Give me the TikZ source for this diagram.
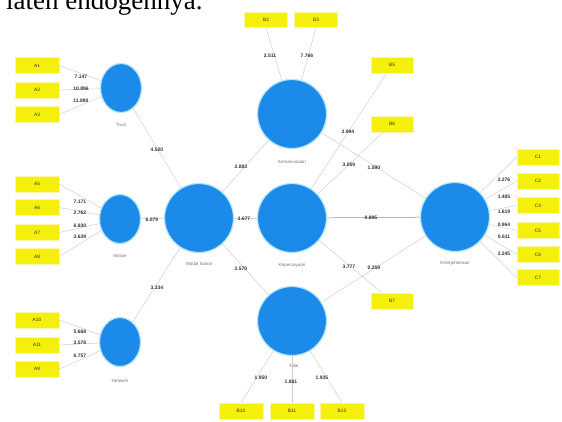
\documentclass[tikz,border=0pt]{standalone}
\usepackage{fontspec}
\setmainfont{Liberation Sans}
\newfontfamily\bodyfont{Liberation Serif}
\usetikzlibrary{positioning,shapes.geometric}
\definecolor{lvblue}{RGB}{28,138,232}
\definecolor{lvglow}{RGB}{175,228,250}
\definecolor{mvyellow}{RGB}{244,240,12}
\definecolor{mvedge}{RGB}{250,246,165}
\definecolor{linkgray}{RGB}{210,208,200}

\begin{document}
\begin{tikzpicture}[x=1pt,y=-1pt,
    latent/.style={circle, fill=lvblue, draw=lvglow, line width=1.2pt, inner sep=0pt, minimum size=69pt},
    smalllatent/.style={ellipse, fill=lvblue, draw=lvglow, line width=1.2pt, inner sep=0pt, minimum width=41pt, minimum height=49pt},
    indicator/.style={rectangle, fill=mvyellow, draw=mvedge, line width=0.6pt, minimum width=44pt, minimum height=16pt, inner sep=0pt, font=\fontsize{4.8}{5}\selectfont, text=black!80},
    lvlabel/.style={font=\fontsize{4.5}{5}\selectfont, text=black!55},
    coef/.style={font=\fontsize{5}{5}\selectfont\bfseries, text=black!80, inner sep=0.5pt},
    link/.style={draw=linkgray, line width=0.5pt}]
    \useasboundingbox (0,0) rectangle (562,421);
    \fill[white] (0,0) rectangle (562,421);

    % text of the page above the figure
    \node[anchor=base west, inner sep=0pt, font=\bodyfont\fontsize{27}{30}\selectfont] (pagetext) at (6,9) {laten endogennya.};

    % Latent variables
    \node[smalllatent] (trust) at (121,88) {};
    \node[lvlabel] (trustlbl) at (121,125) {Trust};
    \node[smalllatent] (motive) at (120,219) {};
    \node[lvlabel] (motivelbl) at (120,256) {Motive};
    \node[smalllatent] (network) at (120,342) {};
    \node[lvlabel] (networklbl) at (120,381) {Network};
    \node[latent] (modal) at (199,218) {};
    \node[lvlabel] (modallbl) at (199,264) {Modal Sosial};
    \node[latent] (kemanusiaan) at (292,114) {};
    \node[lvlabel] (kemanusiaanlbl) at (292,162) {Kemanusiaan};
    \node[latent] (kepercayaan) at (292,218) {};
    \node[lvlabel] (kepercayaanlbl) at (292,265) {Kepercayaan};
    \node[latent] (nilai) at (292,321) {};
    \node[lvlabel] (nilailbl) at (294,366) {Nilai};
    \node[latent] (sejahtera) at (455,217) {};
    \node[lvlabel] (sejahteralbl) at (455,263) {Kesejahteraan};

    % Indicators of Trust
    \node[indicator] (a1) at (37,65.5) {A1};
    \node[indicator] (a2) at (37,90) {A2};
    \node[indicator] (a3) at (37,114.5) {A3};
    \draw[link] (a1.east) -- (trust);
    \draw[link] (a2.east) -- (trust);
    \draw[link] (a3.east) -- (trust);
    \node[coef] (l1) at (81,77) {7.147};
    \node[coef] (l2) at (81,89) {10.896};
    \node[coef] (l3) at (81,101) {11.880};

    % Indicators of Motive
    \node[indicator] (a5) at (37,184) {A5};
    \node[indicator] (a6) at (37,207.5) {A6};
    \node[indicator] (a7) at (37,232.5) {A7};
    \node[indicator] (a8) at (37,256.5) {A8};
    \draw[link] (a5.east) -- (motive);
    \draw[link] (a6.east) -- (motive);
    \draw[link] (a7.east) -- (motive);
    \draw[link] (a8.east) -- (motive);
    \node[coef] (l5) at (80,202) {7.171};
    \node[coef] (l6) at (80,213) {2.762};
    \node[coef] (l7) at (80,226) {6.830};
    \node[coef] (l8) at (80,237) {3.639};

    % Indicators of Network
    \node[indicator] (a10) at (37,320) {A10};
    \node[indicator] (a11) at (37,345) {A11};
    \node[indicator] (a9) at (37,369) {A9};
    \draw[link] (a10.east) -- (network);
    \draw[link] (a11.east) -- (network);
    \draw[link] (a9.east) -- (network);
    \node[coef] (l10) at (80,332) {5.668};
    \node[coef] (l11) at (80,343) {3.578};
    \node[coef] (l9) at (80,356) {6.757};

    % Indicators of Kemanusiaan
    \node[indicator, minimum width=43pt, minimum height=15pt] (b2) at (266,20) {B2};
    \node[indicator, minimum width=43pt, minimum height=15pt] (b3) at (316,20) {B3};
    \draw[link] (b2.south) -- (kemanusiaan);
    \draw[link] (b3.south) -- (kemanusiaan);
    \node[coef] (lb2) at (270,56) {2.511};
    \node[coef] (lb3) at (307,56) {7.766};

    % Indicators of Kepercayaan
    \node[indicator, minimum width=42pt] (b5) at (392,65) {B5};
    \node[indicator, minimum width=42pt] (b6) at (392,124) {B6};
    \node[indicator, minimum width=42pt] (b7) at (392,301) {B7};
    \draw[link] (b5) -- (kepercayaan);
    \draw[link] (b6) -- (kepercayaan);
    \draw[link] (b7) -- (kepercayaan);
    \node[coef] (lb5) at (348,132) {3.994};
    \node[coef] (lb6) at (349,165) {3.059};
    \node[coef] (lb7) at (349,267) {3.777};

    % Indicators of Nilai
    \node[indicator] (b10) at (241,411) {B10};
    \node[indicator] (b11) at (292,411) {B11};
    \node[indicator] (b12) at (342,411) {B12};
    \draw[link] (b10.north) -- (nilai);
    \draw[link] (b11.north) -- (nilai);
    \draw[link] (b12.north) -- (nilai);
    \node[coef] (lb10) at (261,378) {1.950};
    \node[coef] (lb11) at (291,382) {1.861};
    \node[coef] (lb12) at (322,378) {1.935};

    % Indicators of Kesejahteraan
    \node[indicator, minimum width=42pt] (c1) at (538,157) {C1};
    \node[indicator, minimum width=42pt] (c2) at (538,181) {C2};
    \node[indicator, minimum width=42pt] (c4) at (538,205.5) {C4};
    \node[indicator, minimum width=42pt] (c5) at (538,230.5) {C5};
    \node[indicator, minimum width=42pt] (c6) at (538,254.5) {C6};
    \node[indicator, minimum width=42pt] (c7) at (538,277.5) {C7};
    \draw[link] (c1.west) -- (sejahtera);
    \draw[link] (c2.west) -- (sejahtera);
    \draw[link] (c4.west) -- (sejahtera);
    \draw[link] (c5.west) -- (sejahtera);
    \draw[link] (c6.west) -- (sejahtera);
    \draw[link] (c7.west) -- (sejahtera);
    \node[coef] (lc1) at (504,180) {2.276};
    \node[coef] (lc2) at (504,197) {1.485};
    \node[coef] (lc4) at (504,212) {1.619};
    \node[coef] (lc5) at (504,225) {0.964};
    \node[coef] (lc6) at (504,237) {0.611};
    \node[coef] (lc7) at (504,254) {2.245};

    % Inner model
    \draw[link] (trust) -- (modal);
    \draw[link] (motive) -- (modal);
    \draw[link] (network) -- (modal);
    \draw[link] (modal) -- (kemanusiaan);
    \draw[link] (modal) -- (kepercayaan);
    \draw[link] (modal) -- (nilai);
    \draw[link] (kemanusiaan) -- (sejahtera);
    \draw[link, draw=black!45] (kepercayaan) -- (sejahtera);
    \draw[link] (nilai) -- (sejahtera);
    \node[coef] (ptm) at (157,150) {4.520};
    \node[coef] (pmm) at (152,220) {6.079};
    \node[coef] (pnm) at (157,288) {3.334};
    \node[coef] (pmk) at (241,167) {2.883};
    \node[coef] (pmp) at (244,219) {3.677};
    \node[coef] (pmn) at (241,269) {2.570};
    \node[coef] (pks) at (374,168) {1.590};
    \node[coef] (pps) at (371,218) {0.895};
    \node[coef] (pns) at (374,268) {0.259};
\end{tikzpicture}
\end{document}
